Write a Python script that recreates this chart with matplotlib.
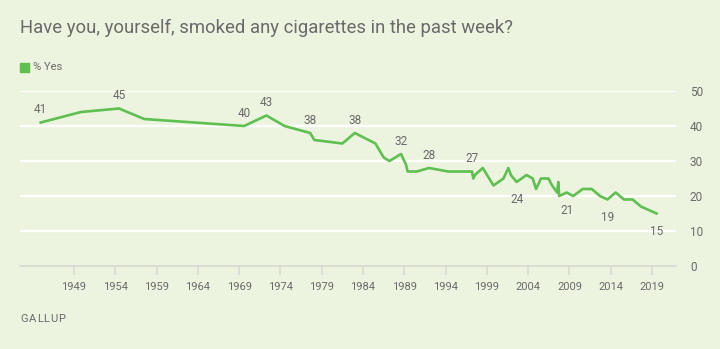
import matplotlib
matplotlib.use("Agg")
import matplotlib.pyplot as plt

# data (year as decimal, % yes)
years = [1944.97, 1949.85, 1954.45, 1957.5, 1969.6, 1972.3, 1974.5, 1977.6, 1978.1,
         1981.5, 1983.0, 1985.5, 1986.5, 1987.2, 1988.6, 1989.2, 1989.4, 1990.5,
         1992.0, 1994.3, 1997.2, 1997.35, 1997.55, 1998.5, 1999.8, 2001.0, 2001.6,
         2001.9, 2002.6, 2003.8, 2004.55, 2004.95, 2005.55, 2006.45, 2006.9, 2007.5,
         2007.65, 2007.75, 2008.65, 2009.45, 2010.6, 2011.7, 2012.7, 2013.6, 2014.6,
         2015.6, 2016.65, 2017.65, 2019.55]
pct_yes = [41, 44, 45, 42, 40, 43, 40, 38, 36,
           35, 38, 35, 31, 30, 32, 29, 27, 27,
           28, 27, 27, 25, 26, 28, 23, 25, 28,
           26, 24, 26, 25, 22, 25, 25, 23, 21,
           24, 20, 21, 20, 22, 22, 20, 19, 21,
           19, 19, 17, 15]

# which points get a value label
above_idx = [0, 2, 4, 5, 7, 10, 14, 18, 20]
below_idx = [28, 38, 43, 48]

xticks = list(range(1949, 2020, 5))
yticks = [0, 10, 20, 30, 40, 50]

bg = "#ecf4df"
green = "#5fbf50"
txt = "#6a6a6a"

plt.rcParams['font.family'] = ['Roboto', 'DejaVu Sans']

fig = plt.figure(figsize=(7.2, 3.49), dpi=100, facecolor=bg)
ax = fig.add_axes([20/720, 1 - 266/349, 656/720, 175/349])
ax.set_facecolor(bg)

ax.set_xlim(1942.46, 2021.9)
ax.set_ylim(0, 50)

for y in yticks[1:]:
    ax.axhline(y, color="white", lw=1.6, zorder=1)

ax.plot(years, pct_yes, color=green, lw=1.9, zorder=3, clip_on=False)

for i in above_idx:
    ax.annotate(str(pct_yes[i]), (years[i], pct_yes[i]), xytext=(0, 9.3),
                textcoords="offset points", ha="center", va="center",
                fontsize=8.5, color=txt)
for i in below_idx:
    ax.annotate(str(pct_yes[i]), (years[i], pct_yes[i]), xytext=(0, -12.8),
                textcoords="offset points", ha="center", va="center",
                fontsize=8.5, color=txt)

for s in ["top", "left", "right"]:
    ax.spines[s].set_visible(False)
ax.spines["bottom"].set_color("#d6d9d2")
ax.spines["bottom"].set_linewidth(1.2)

ax.set_xticks(xticks)
ax.set_xticklabels([str(x) for x in xticks])
ax.tick_params(axis="x", length=6.5, width=1.1, color="#d6d9d2", pad=5,
               labelsize=8, labelcolor=txt)
ax.yaxis.tick_right()
ax.set_yticks(yticks)
ax.tick_params(axis="y", length=0, pad=10, labelsize=8.5, labelcolor=txt)

fig.text(20/720, 1 - 28/349, "Have you, yourself, smoked any cigarettes in the past week?",
         fontsize=13.3, color=txt, va="center", ha="left")

# legend
fig.patches.append(plt.Rectangle((20/720, 1 - 72/349), 9/720, 9/349,
                                 transform=fig.transFigure, color=green))
fig.text(33/720, 1 - 67.5/349, "% Yes", fontsize=8, color=txt, va="center")

# GALLUP footer, letter spaced
renderer = fig.canvas.get_renderer()
xpos = 20
for ch in "GALLUP":
    t = fig.text(xpos/720, 1 - 319.5/349, ch, fontsize=8, color=txt, va="center")
    xpos += t.get_window_extent(renderer).width + 0.9

fig.savefig("out.png", dpi=100, facecolor=bg)
